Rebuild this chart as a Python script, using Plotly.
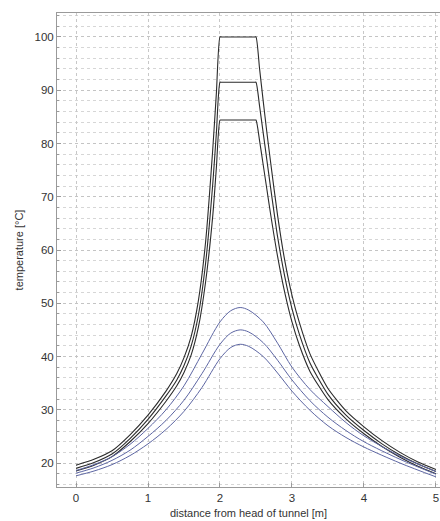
import plotly.graph_objects as go

# Distance along the tunnel [m] at which the profiles are tabulated
x_heated = [0, 0.25, 0.5, 0.75, 1.0, 1.25, 1.4, 1.5, 1.6, 1.7, 1.8, 1.9, 1.95, 2.0, 2.02,
            2.48, 2.5, 2.55, 2.6, 2.65, 2.7, 2.8, 2.9, 3.0, 3.1, 3.25, 3.5, 3.75, 4.0,
            4.25, 4.5, 4.75, 5.0]
x_free = [0, 0.25, 0.5, 0.75, 1.0, 1.25, 1.5, 1.75, 2.0, 2.15, 2.28, 2.4,
          2.6, 2.8, 3.0, 3.25, 3.5, 3.75, 4.0, 4.5, 5.0]

# Temperature profiles [°C] with the heated section held at a fixed temperature
t_heated_100 = [19.6, 20.7, 22.3, 25.3, 29.0, 33.5, 36.8, 39.8, 43.8, 50.5, 61.5, 79.0, 89.5, 100.0, 100.0,
                100.0, 100.0, 94.0, 88.0, 82.2, 76.8, 66.5, 58.0, 51.5, 46.5, 40.5, 34.0, 29.8, 26.8,
                24.2, 22.0, 20.2, 18.8]
t_heated_915 = [19.0, 20.1, 21.7, 24.6, 28.2, 32.6, 35.6, 38.3, 42.0, 47.8, 57.5, 72.5, 82.0, 91.5, 91.5,
                91.5, 91.5, 87.0, 82.0, 77.0, 72.0, 62.5, 55.0, 49.0, 44.3, 38.8, 32.9, 29.0, 26.1,
                23.6, 21.5, 19.8, 18.4]
t_heated_844 = [18.5, 19.6, 21.2, 24.0, 27.4, 31.6, 34.5, 37.0, 40.3, 45.5, 54.0, 66.5, 75.5, 84.4, 84.4,
                84.4, 84.4, 80.5, 76.0, 71.5, 67.0, 58.8, 52.0, 46.5, 42.2, 37.2, 31.9, 28.3, 25.5,
                23.1, 21.1, 19.4, 18.0]

# Temperature profiles [°C] without a fixed heated section
t_free_1 = [18.6, 19.7, 21.2, 23.5, 26.5, 30.0, 34.5, 40.5, 46.5, 48.6, 49.2, 48.7,
            46.5, 42.5, 38.0, 33.8, 30.6, 27.6, 25.1, 21.3, 18.4]
t_free_2 = [18.1, 19.1, 20.5, 22.4, 25.0, 28.0, 31.8, 36.8, 42.3, 44.4, 45.0, 44.6,
            42.6, 39.3, 35.6, 31.7, 28.6, 26.1, 24.0, 20.7, 17.9]
t_free_3 = [17.6, 18.5, 19.7, 21.4, 23.6, 26.3, 29.7, 34.2, 39.6, 41.7, 42.3, 41.9,
            40.0, 36.9, 33.5, 29.9, 27.0, 24.8, 23.0, 20.0, 17.4]

x_ticks = [0, 1, 2, 3, 4, 5]
y_ticks = [20, 30, 40, 50, 60, 70, 80, 90, 100]

heated_color = "#2b2b2b"
free_color = "#5d66a3"

fig = go.Figure()
for t in (t_heated_100, t_heated_915, t_heated_844):
    fig.add_trace(go.Scatter(x=x_heated, y=t, mode="lines",
                             line=dict(color=heated_color, width=1.1, shape="spline", smoothing=0.6),
                             showlegend=False, hoverinfo="skip"))
for t in (t_free_1, t_free_2, t_free_3):
    fig.add_trace(go.Scatter(x=x_free, y=t, mode="lines",
                             line=dict(color=free_color, width=1.0, shape="spline", smoothing=0.9),
                             showlegend=False, hoverinfo="skip"))

font_family = "Liberation Sans, Arial, sans-serif"
text_color = "#333333"
axis_color = "#9a9a9a"
fig.update_layout(
    width=440, height=521,
    margin=dict(l=57, r=0, t=13, b=34),
    paper_bgcolor="white", plot_bgcolor="white",
    font=dict(family=font_family, color=text_color, size=11),
    showlegend=False,
)
fig.update_xaxes(
    range=[-0.264, 5.056],
    tickvals=x_ticks, ticktext=[str(v) for v in x_ticks],
    showline=True, linecolor=axis_color, linewidth=1, mirror=True,
    ticks="inside", ticklen=4, tickcolor=axis_color,
    showgrid=True, gridcolor="#c8c8c8", griddash="dot", gridwidth=1,
    zeroline=False,
    tickfont=dict(size=11.5, color=text_color),
    title=dict(text="distance from head of tunnel [m]", font=dict(size=11, color=text_color), standoff=6),
)
fig.update_yaxes(
    range=[15.5, 104.5],
    tickvals=y_ticks, ticktext=[str(v) for v in y_ticks],
    showline=True, linecolor=axis_color, linewidth=1, mirror=False,
    ticks="inside", ticklen=4, tickcolor=axis_color,
    showgrid=True, gridcolor="#c4c4c4", griddash="dot", gridwidth=1,
    zeroline=False,
    minor=dict(dtick=2, tick0=0, showgrid=True, gridcolor="#d6d6d6", griddash="dot",
               ticks="inside", ticklen=2, tickcolor=axis_color),
    tickfont=dict(size=11.5, color=text_color),
    title=dict(text="temperature [°C]", font=dict(size=11, color=text_color), standoff=8),
)

fig.write_html("out.html")
